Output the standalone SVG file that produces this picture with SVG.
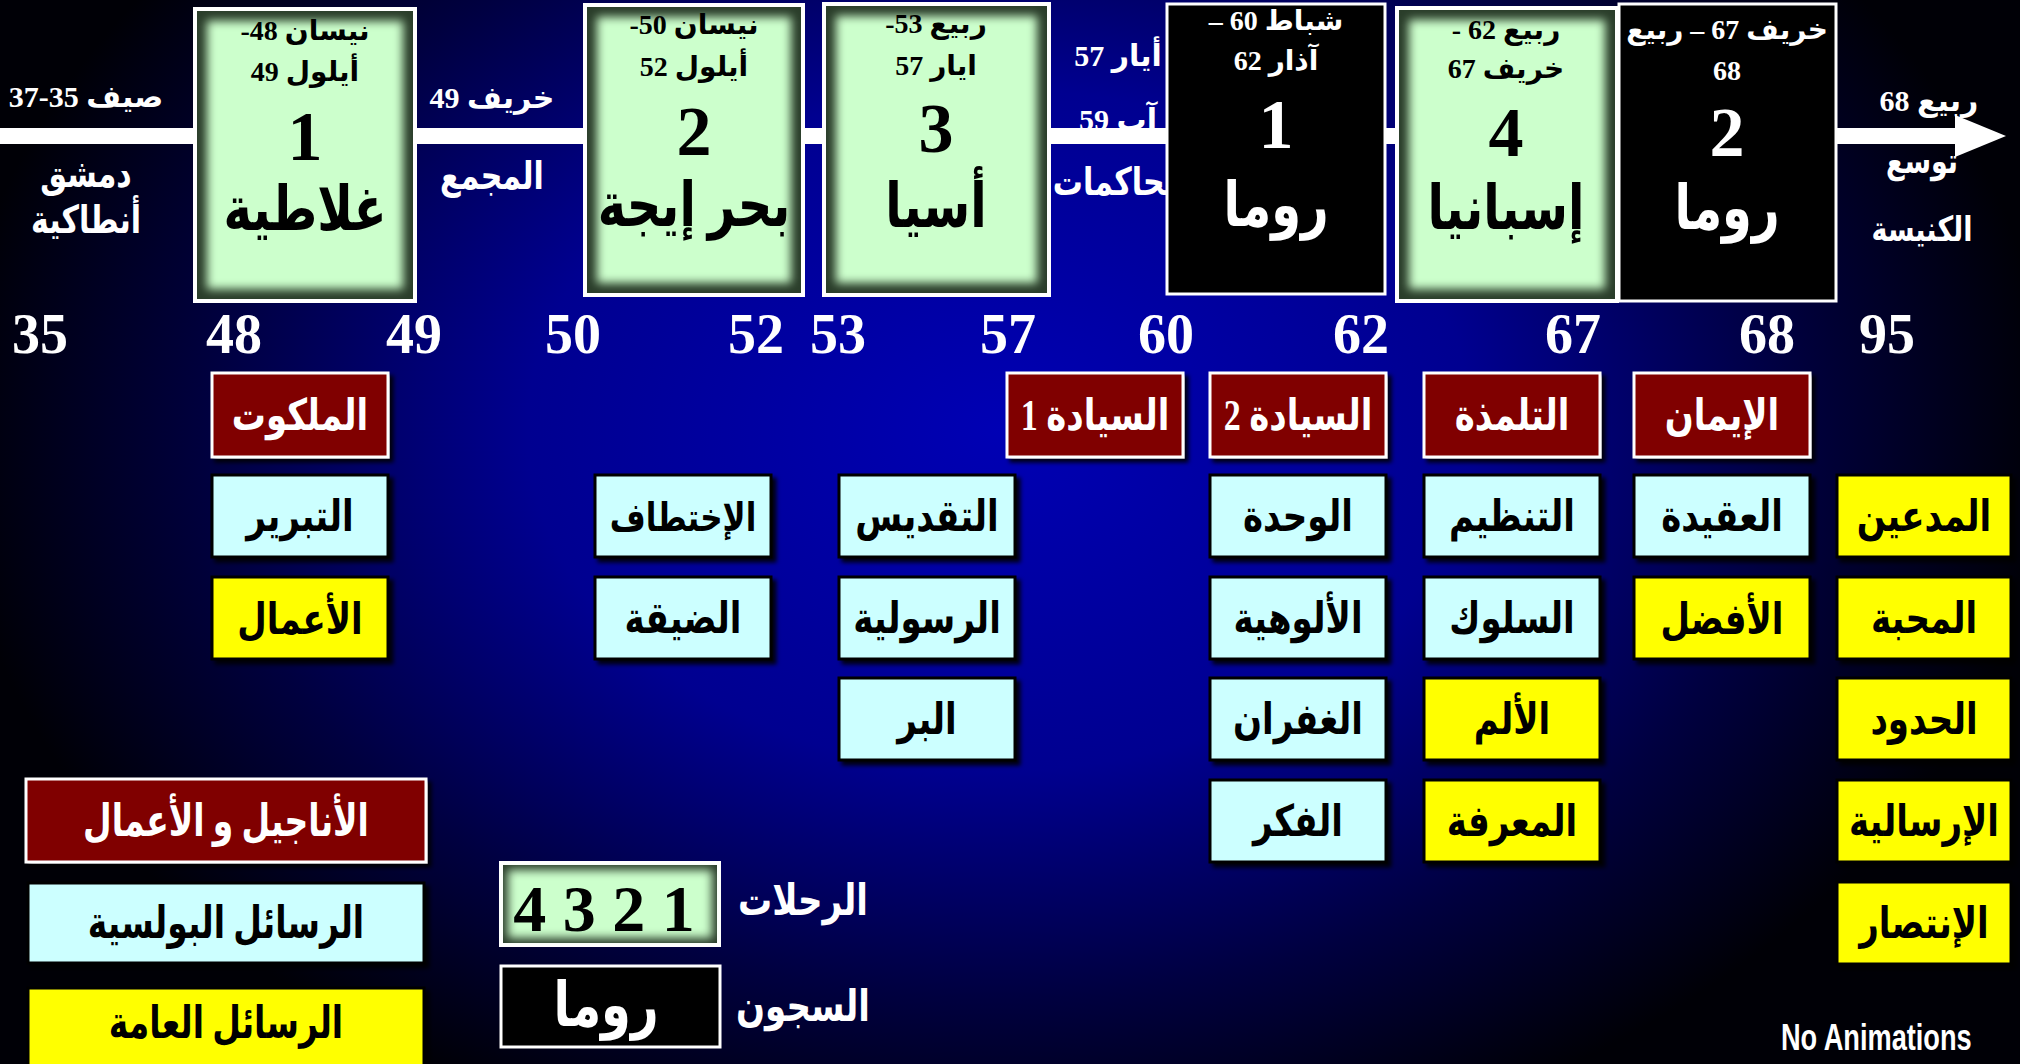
<svg xmlns="http://www.w3.org/2000/svg" width="2020" height="1064" viewBox="0 0 2020 1064">
<defs>
  <radialGradient id="bg" gradientUnits="userSpaceOnUse" cx="1000" cy="430" r="1050" gradientTransform="translate(1000 430) scale(1 0.72) translate(-1000 -430)">
    <stop offset="0" stop-color="#0000b4"/>
    <stop offset="0.45" stop-color="#000090"/>
    <stop offset="0.75" stop-color="#000040"/>
    <stop offset="1" stop-color="#000006"/>
  </radialGradient>
  <filter id="soft" x="-10%" y="-10%" width="120%" height="120%">
    <feGaussianBlur stdDeviation="5"/>
  </filter>
  <filter id="shadow" x="-10%" y="-10%" width="130%" height="130%">
    <feDropShadow dx="4" dy="4" stdDeviation="2" flood-color="#000" flood-opacity="0.9"/>
  </filter>
</defs>
<style>
  .t { font-family: "Liberation Serif", "DejaVu Sans", serif; font-weight: bold; direction: rtl; text-anchor: middle; }
  .w { fill: #ffffff; }
  .k { fill: #000000; }
  .yr { font-size: 56px; }
  .date { font-size: 28px; }
  .big { font-size: 70px; }
  .name { font-size: 48px; }
  .lab { font-size: 30px; }
  .sm { font-size: 27px; }
  .box { font-size: 34px; }
  .leg { font-size: 33px; }
  .side { font-size: 34px; }
  .tall { transform-box: fill-box; transform-origin: center; transform: scale(1, 1.28); }
  .tall2 { transform-box: fill-box; transform-origin: center; transform: scale(1, 1.35); }
  .frame { stroke: #ffffff; stroke-width: 4; }
  .bevel { fill: #2a3d2a; }
  .green { fill: #ccffcc; }
  .red { fill: #800000; stroke: #ffffff; stroke-width: 3; }
  .cyan { fill: #ccffff; stroke: #000000; stroke-width: 3; }
  .yel { fill: #ffff00; stroke: #000000; stroke-width: 3; }
  .blk { fill: #000000; stroke: #ffffff; stroke-width: 3; }
</style>

<rect x="0" y="0" width="2020" height="1064" fill="url(#bg)"/>

<!-- free labels along the timeline -->
<g id="labels">
  <text class="t w lab" x="86" y="107">صيف 35-37</text>
  <text class="t w lab tall" x="86" y="184">دمشق</text>
  <text class="t w lab tall" x="86" y="230">أنطاكية</text>
  <text class="t w lab" x="492" y="108">خريف 49</text>
  <text class="t w lab tall" x="492" y="186">المجمع</text>
  <text class="t w lab" x="1118" y="66">أيار 57</text>
  <text class="t w lab" x="1118" y="130">آب 59</text>
  <text class="t w lab tall" x="1118" y="192">محاكمات</text>
  <text class="t w lab" x="1929" y="111">ربيع 68</text>
  <text class="t w sm tall" x="1922" y="171">توسع</text>
  <text class="t w sm tall" x="1922" y="238">الكنيسة</text>
</g>

<g id="connectors">
  <rect x="0" y="128" width="1957" height="16" fill="#ffffff"/>
  <polygon points="1955,115 2006,136 1955,157" fill="#ffffff"/>
</g>

<g id="trip1">
  <rect class="frame bevel" x="195" y="9" width="220" height="292"/>
  <rect class="green" x="207" y="21" width="196" height="268" filter="url(#soft)"/>
  <text class="t k date" x="305" y="40">نيسان 48-</text>
  <text class="t k date" x="305" y="81">أيلول 49</text>
  <text class="t k big" x="305" y="160">1</text>
  <text class="t k name tall" x="305" y="225">غلاطية</text>
</g>
<g id="trip2">
  <rect class="frame bevel" x="585" y="5" width="218" height="290"/>
  <rect class="green" x="597" y="17" width="194" height="266" filter="url(#soft)"/>
  <text class="t k date" x="694" y="34">نيسان 50-</text>
  <text class="t k date" x="694" y="76">أيلول 52</text>
  <text class="t k big" x="694" y="155">2</text>
  <text class="t k name tall" x="694" y="222">بحر إيجة</text>
</g>
<g id="trip3">
  <rect class="frame bevel" x="824" y="4" width="225" height="291"/>
  <rect class="green" x="836" y="16" width="201" height="267" filter="url(#soft)"/>
  <text class="t k date" x="936" y="33">ربيع 53-</text>
  <text class="t k date" x="936" y="75">ايار 57</text>
  <text class="t k big" x="936" y="152">3</text>
  <text class="t k name tall" x="936" y="222">أسيا</text>
</g>
<g id="rome1">
  <rect class="blk" x="1167" y="4" width="218" height="290"/>
  <text class="t w date" x="1276" y="30">شباط 60 –</text>
  <text class="t w date" x="1276" y="70">آذار 62</text>
  <text class="t w big" x="1276" y="148">1</text>
  <text class="t w name tall" x="1276" y="222">روما</text>
</g>
<g id="trip4">
  <rect class="frame bevel" x="1397" y="8" width="220" height="293"/>
  <rect class="green" x="1409" y="20" width="196" height="269" filter="url(#soft)"/>
  <text class="t k date" x="1506" y="39">ربيع 62 -</text>
  <text class="t k date" x="1506" y="78">خريف 67</text>
  <text class="t k big" x="1506" y="156">4</text>
  <text class="t k name tall" x="1506" y="225">إسبانيا</text>
</g>
<g id="rome2">
  <rect class="blk" x="1619" y="4" width="217" height="297"/>
  <text class="t w date" x="1727" y="39">خريف 67 – ربيع</text>
  <text class="t w date" x="1727" y="80">68</text>
  <text class="t w big" x="1727" y="156">2</text>
  <text class="t w name tall" x="1727" y="225">روما</text>
</g>

<g id="years">
  <text class="t w yr" x="40" y="353">35</text>
  <text class="t w yr" x="234" y="353">48</text>
  <text class="t w yr" x="414" y="353">49</text>
  <text class="t w yr" x="573" y="353">50</text>
  <text class="t w yr" x="756" y="353">52</text>
  <text class="t w yr" x="838" y="353">53</text>
  <text class="t w yr" x="1008" y="353">57</text>
  <text class="t w yr" x="1166" y="353">60</text>
  <text class="t w yr" x="1361" y="353">62</text>
  <text class="t w yr" x="1573" y="353">67</text>
  <text class="t w yr" x="1767" y="353">68</text>
  <text class="t w yr" x="1887" y="353">95</text>
</g>

<!-- themes: red headers -->
<g id="h-malakut"><rect class="red" x="212" y="373" width="176" height="84" filter="url(#shadow)"/><text class="t w box tall" x="300" y="427">الملكوت</text></g>
<g id="h-siyada1"><rect class="red" x="1007" y="373" width="176" height="84" filter="url(#shadow)"/><text class="t w box tall" x="1095" y="427">السيادة 1</text></g>
<g id="h-siyada2"><rect class="red" x="1210" y="373" width="176" height="84" filter="url(#shadow)"/><text class="t w box tall" x="1298" y="427">السيادة 2</text></g>
<g id="h-talmaza"><rect class="red" x="1424" y="373" width="176" height="84" filter="url(#shadow)"/><text class="t w box tall" x="1512" y="427">التلمذة</text></g>
<g id="h-iman"><rect class="red" x="1634" y="373" width="176" height="84" filter="url(#shadow)"/><text class="t w box tall" x="1722" y="427">الإيمان</text></g>

<!-- row 1 -->
<g id="tabrir"><rect class="cyan" x="212" y="475" width="176" height="82" filter="url(#shadow)"/><text class="t k box tall" x="300" y="528">التبرير</text></g>
<g id="ikhtitaf"><rect class="cyan" x="595" y="475" width="176" height="82" filter="url(#shadow)"/><text class="t k box tall" x="683" y="528" style="font-size:31px">الإختطاف</text></g>
<g id="taqdis"><rect class="cyan" x="839" y="475" width="176" height="82" filter="url(#shadow)"/><text class="t k box tall" x="927" y="528">التقديس</text></g>
<g id="wahda"><rect class="cyan" x="1210" y="475" width="176" height="82" filter="url(#shadow)"/><text class="t k box tall" x="1298" y="528">الوحدة</text></g>
<g id="tanzim"><rect class="cyan" x="1424" y="475" width="176" height="82" filter="url(#shadow)"/><text class="t k box tall" x="1512" y="528">التنظيم</text></g>
<g id="aqida"><rect class="cyan" x="1634" y="475" width="176" height="82" filter="url(#shadow)"/><text class="t k box tall" x="1722" y="528">العقيدة</text></g>
<g id="mudain"><rect class="yel" x="1837" y="475" width="174" height="82" filter="url(#shadow)"/><text class="t k box tall" x="1924" y="528">المدعين</text></g>

<!-- row 2 -->
<g id="amal"><rect class="yel" x="212" y="577" width="176" height="82" filter="url(#shadow)"/><text class="t k box tall" x="300" y="630">الأعمال</text></g>
<g id="diqa"><rect class="cyan" x="595" y="577" width="176" height="82" filter="url(#shadow)"/><text class="t k box tall" x="683" y="630">الضيقة</text></g>
<g id="rasuliya"><rect class="cyan" x="839" y="577" width="176" height="82" filter="url(#shadow)"/><text class="t k box tall" x="927" y="630">الرسولية</text></g>
<g id="uluhiya"><rect class="cyan" x="1210" y="577" width="176" height="82" filter="url(#shadow)"/><text class="t k box tall" x="1298" y="630">الألوهية</text></g>
<g id="suluk"><rect class="cyan" x="1424" y="577" width="176" height="82" filter="url(#shadow)"/><text class="t k box tall" x="1512" y="630">السلوك</text></g>
<g id="afdal"><rect class="yel" x="1634" y="577" width="176" height="82" filter="url(#shadow)"/><text class="t k box tall" x="1722" y="630">الأفضل</text></g>
<g id="mahabba"><rect class="yel" x="1837" y="577" width="174" height="82" filter="url(#shadow)"/><text class="t k box tall" x="1924" y="630">المحبة</text></g>

<!-- row 3 -->
<g id="birr"><rect class="cyan" x="839" y="678" width="176" height="82" filter="url(#shadow)"/><text class="t k box tall" x="927" y="731">البر</text></g>
<g id="ghufran"><rect class="cyan" x="1210" y="678" width="176" height="82" filter="url(#shadow)"/><text class="t k box tall" x="1298" y="731">الغفران</text></g>
<g id="alam"><rect class="yel" x="1424" y="678" width="176" height="82" filter="url(#shadow)"/><text class="t k box tall" x="1512" y="731">الألم</text></g>
<g id="hudud"><rect class="yel" x="1837" y="678" width="174" height="82" filter="url(#shadow)"/><text class="t k box tall" x="1924" y="731">الحدود</text></g>

<!-- row 4 -->
<g id="fikr"><rect class="cyan" x="1210" y="780" width="176" height="82" filter="url(#shadow)"/><text class="t k box tall" x="1298" y="833">الفكر</text></g>
<g id="marifa"><rect class="yel" x="1424" y="780" width="176" height="82" filter="url(#shadow)"/><text class="t k box tall" x="1512" y="833">المعرفة</text></g>
<g id="irsaliya"><rect class="yel" x="1837" y="780" width="174" height="82" filter="url(#shadow)"/><text class="t k box tall" x="1924" y="833">الإرسالية</text></g>

<!-- row 5 -->
<g id="intisar"><rect class="yel" x="1837" y="882" width="174" height="82" filter="url(#shadow)"/><text class="t k box tall" x="1924" y="935">الإنتصار</text></g>

<!-- legend -->
<g id="leg-gospels"><rect class="red" x="26" y="779" width="400" height="83" filter="url(#shadow)"/><text class="t w leg tall2" x="226" y="832">الأناجيل و الأعمال</text></g>
<g id="leg-pauline"><rect class="cyan" x="28" y="883" width="396" height="80" filter="url(#shadow)"/><text class="t k leg tall2" x="226" y="934">الرسائل البولسية</text></g>
<g id="leg-general"><rect class="yel" x="28" y="988" width="396" height="90" filter="url(#shadow)"/><text class="t k leg tall2" x="226" y="1034">الرسائل العامة</text></g>
<g id="leg-trips">
  <rect class="frame bevel" x="501" y="863" width="218" height="82"/>
  <rect class="green" x="508" y="870" width="204" height="68" filter="url(#soft)"/>
  <text class="t k" style="font-size:66px;direction:ltr" x="604" y="931">4 3 2 1</text>
  <text class="t w side tall" x="803" y="912">الرحلات</text>
</g>
<g id="leg-prisons">
  <rect class="blk" x="501" y="966" width="219" height="81"/>
  <text class="t w tall" style="font-size:48px" x="606" y="1022">روما</text>
  <text class="t w side tall" x="803" y="1018">السجون</text>
</g>

<text transform="translate(1781 1050) scale(0.755 1)" x="0" y="0" font-family="'Liberation Sans', Arial, sans-serif" font-weight="bold" font-size="36" fill="#ffffff">No Animations</text>
</svg>
